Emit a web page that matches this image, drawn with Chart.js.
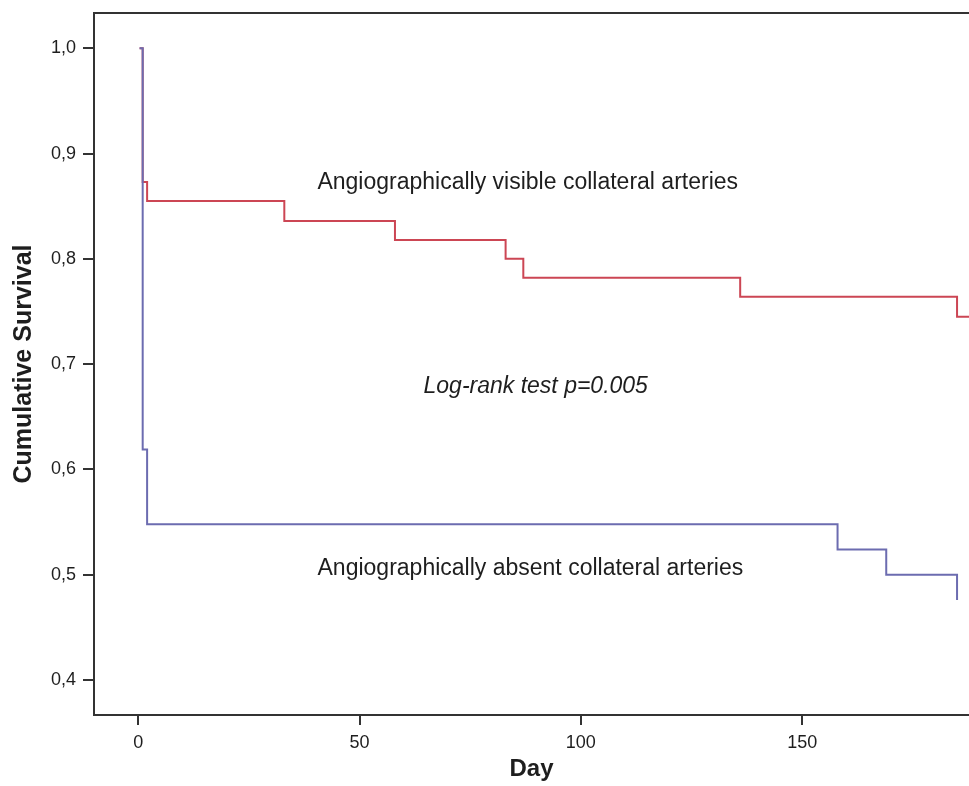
<!DOCTYPE html>
<html>
<head>
<meta charset="utf-8">
<title>Cumulative Survival</title>
<script src="https://cdn.jsdelivr.net/npm/chart.js@4.4.1/dist/chart.umd.min.js"></script>
<style>
  body { margin: 0; background: #fff; }
  #wrap { width: 969px; height: 786px; }
</style>
</head>
<body>
<div id="wrap"><canvas id="survivalChart"></canvas></div>
<script>
// Kaplan-Meier steps
const visibleDays = [0.3, 1, 2, 33, 58, 83, 87, 136, 185, 190];
const visibleSurv = [1.0, 0.873, 0.855, 0.836, 0.818, 0.800, 0.782, 0.764, 0.745, 0.745];
const absentDays = [0.3, 1, 2, 158, 169, 185];
const absentSurv = [1.0, 0.619, 0.548, 0.524, 0.500, 0.476];

const xTicks = [0, 50, 100, 150];
const yTicks = [0.4, 0.5, 0.6, 0.7, 0.8, 0.9, 1.0];

const labelVisible = "Angiographically visible collateral arteries";
const labelAbsent = "Angiographically absent collateral arteries";
const labelTest = "Log-rank test p=0.005";

const FONT = "'Liberation Sans', Arial, sans-serif";
const INK = "#1e1e1e";
const AXIS = "#333333";

function toPoints(days, surv) {
  return days.map((d, i) => ({ x: d, y: surv[i] }));
}

// text placed inside the plot, in data coordinates
const notes = [
  { text: labelVisible, day: 88, value: 0.8725, italic: false },
  { text: labelTest, day: 89.8, value: 0.679, italic: true },
  { text: labelAbsent, day: 88.6, value: 0.5055, italic: false },
];

const notesPlugin = {
  id: "notes",
  afterDatasetsDraw(chart) {
    const { ctx, scales } = chart;
    ctx.save();
    ctx.fillStyle = INK;
    ctx.textAlign = "center";
    ctx.textBaseline = "middle";
    notes.forEach((n) => {
      ctx.font = (n.italic ? "italic " : "") + "23px " + FONT;
      ctx.fillText(n.text, scales.x.getPixelForValue(n.day), scales.y.getPixelForValue(n.value));
    });
    ctx.restore();
  },
  afterDraw(chart) {
    // top frame line (the right side of the figure is cropped)
    const { ctx, chartArea } = chart;
    ctx.save();
    ctx.strokeStyle = AXIS;
    ctx.lineWidth = 2;
    ctx.beginPath();
    ctx.moveTo(chartArea.left - 1, chartArea.top);
    ctx.lineTo(chartArea.right, chartArea.top);
    ctx.stroke();
    ctx.restore();
  },
};

new Chart(document.getElementById("survivalChart"), {
  type: "line",
  data: {
    datasets: [
      {
        label: labelAbsent,
        data: toPoints(absentDays, absentSurv),
        borderColor: "#6c6cb0",
        borderWidth: 2,
        stepped: true,
        pointRadius: 0,
        fill: false,
      },
      {
        label: labelVisible,
        data: toPoints(visibleDays, visibleSurv),
        borderColor: "#cc4654",
        borderWidth: 2,
        stepped: true,
        pointRadius: 0,
        fill: false,
      },
    ],
  },
  options: {
    responsive: true,
    maintainAspectRatio: false,
    animation: false,
    layout: { padding: { top: 13, right: 0, left: 0, bottom: 0 } },
    plugins: {
      legend: { display: false },
      tooltip: { enabled: false },
    },
    scales: {
      x: {
        type: "linear",
        min: -10,
        max: 187.7,
        afterFit: (s) => { s.height = 71; s.paddingLeft = 0; s.paddingRight = 0; },
        afterBuildTicks: (s) => { s.ticks = xTicks.map((v) => ({ value: v })); },
        grid: { drawOnChartArea: false, drawTicks: true, tickLength: 10, color: AXIS, lineWidth: 2 },
        border: { display: true, color: AXIS, width: 2 },
        ticks: { color: INK, padding: 7, font: { family: FONT, size: 18 } },
        title: {
          display: true,
          text: "Day",
          color: INK,
          padding: { top: 0, bottom: 2 },
          font: { family: FONT, size: 24, weight: "bold" },
        },
      },
      y: {
        type: "linear",
        min: 0.3668,
        max: 1.0335,
        afterFit: (s) => { s.width = 94; s.paddingTop = 0; s.paddingBottom = 0; },
        afterBuildTicks: (s) => { s.ticks = yTicks.map((v) => ({ value: v })); },
        grid: { drawOnChartArea: false, drawTicks: true, tickLength: 11, color: AXIS, lineWidth: 2 },
        border: { display: true, color: AXIS, width: 2 },
        ticks: {
          color: INK,
          padding: 7,
          font: { family: FONT, size: 18 },
          callback: (v) => v.toFixed(1).replace(".", ","),
        },
        title: {
          display: true,
          text: "Cumulative Survival",
          color: INK,
          padding: { top: 9, bottom: 0 },
          font: { family: FONT, size: 25, weight: "bold" },
        },
      },
    },
  },
  plugins: [notesPlugin],
});
</script>
</body>
</html>
